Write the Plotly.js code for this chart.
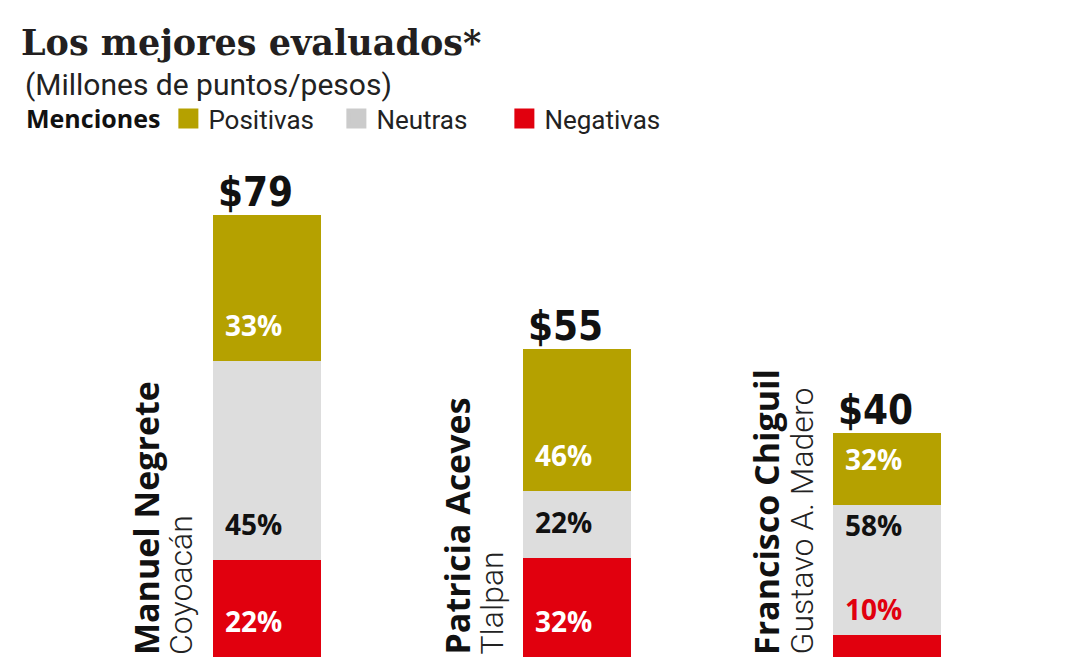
<!DOCTYPE html>
<html><head><meta charset="utf-8">
<script src="https://cdn.plot.ly/plotly-3.0.1.min.js"></script>
<style>html,body{margin:0;padding:0;background:#fff}#chart{width:1081px;height:666px}</style>
</head><body><div id="chart"></div>
<script>
// ---- data ----
const names = ['Manuel Negrete', 'Patricia Aceves', 'Francisco Chiguil'];
const districts = ['Coyoacán', 'Tlalpan', 'Gustavo A. Madero'];
const totals = [79, 55, 40];            // millones de puntos/pesos
const totalLabels = ['$79', '$55', '$40'];
const positivas = [33, 46, 32];          // %
const neutras = [45, 22, 58];            // %
const negativas = [22, 32, 10];          // %
const seriesNames = ['Negativas', 'Neutras', 'Positivas'];

// ---- styles ----
const colors = {Positivas: '#B5A100', Neutras: '#DDDDDD', Negativas: '#E1000E'};
const legendColors = {Positivas: '#B5A100', Neutras: '#CBCBCB', Negativas: '#E1000E'};
const labelColors = {Positivas: '#FFFFFF', Neutras: '#111111', Negativas: '#FFFFFF'};
const pctFont = 'Open Sans, Roboto, sans-serif';
const idx = names.map((_, i) => i);
const pctBySeries = {Negativas: negativas, Neutras: neutras, Positivas: positivas};
const barW = 108 / 310;
const defaultLabelShift = 36;
const labelShiftOverride = {'2-Positivas': 46, '2-Neutras': 110, '2-Negativas': 48};
const labelColorOverride = {'2-Negativas': '#E1000E'};

const traces = [];
seriesNames.forEach(s => {
  traces.push({
    type: 'bar', name: s, x: idx,
    y: idx.map(i => totals[i] * pctBySeries[s][i] / 100),
    marker: {color: colors[s], line: {width: 0}},
    width: barW, showlegend: false, hoverinfo: 'skip'
  });
});
['Positivas', 'Neutras', 'Negativas'].forEach(s => {
  traces.push({
    type: 'scatter', mode: 'markers', name: s, x: [null], y: [null],
    marker: {symbol: 'square', size: 16, color: legendColors[s], line: {width: 4, color: legendColors[s]}},
    showlegend: true, hoverinfo: 'skip'
  });
});

const annotations = [];
idx.forEach(i => {
  let base = 0;
  seriesNames.forEach(s => {
    const v = totals[i] * pctBySeries[s][i] / 100;
    const key = i + '-' + s;
    annotations.push({
      xref: 'x', yref: 'y', x: i, y: base, xanchor: 'left', yanchor: 'middle',
      xshift: -44, yshift: labelShiftOverride[key] !== undefined ? labelShiftOverride[key] : defaultLabelShift,
      text: '<b>' + pctBySeries[s][i] + '%</b>', showarrow: false,
      font: {family: pctFont, size: 28, color: labelColorOverride[key] || labelColors[s]}
    });
    base += v;
  });
  // total label
  annotations.push({
    xref: 'x', yref: 'y', x: i, y: totals[i], xanchor: 'center', yanchor: 'bottom',
    xshift: -12, yshift: -2, text: '<b>' + totalLabels[i] + '</b>', showarrow: false,
    font: {family: 'DejaVu Sans Condensed, DejaVu Sans, sans-serif', stretch: 'condensed', size: 40, color: '#111111'}
  });
  // name (bold) and district (light), vertical
  annotations.push({
    xref: 'x', yref: 'y', x: i, y: 0, xanchor: 'center', yanchor: 'bottom',
    xshift: -121, yshift: 0, textangle: -90, text: '<b>' + names[i] + '</b>', showarrow: false,
    font: {family: 'Open Sans, sans-serif', size: 34, color: '#111111'}
  });
  annotations.push({
    xref: 'x', yref: 'y', x: i, y: 0, xanchor: 'center', yanchor: 'bottom',
    xshift: -86, yshift: 0, textangle: -90, text: districts[i], showarrow: false,
    font: {family: 'Roboto, sans-serif', size: 32, weight: 300, color: '#222222'}
  });
});
// subtitle
annotations.push({
  xref: 'paper', yref: 'paper', x: -89 / 930, y: 1 + (97 - 65) / 560, xanchor: 'left', yanchor: 'top',
  text: '(Millones de puntos/pesos)', showarrow: false,
  font: {family: 'Roboto, sans-serif', size: 30, color: '#222222'}
});

const layout = {
  width: 1081, height: 666,
  margin: {l: 112, r: 39, t: 97, b: 9, autoexpand: false},
  paper_bgcolor: '#FFFFFF', plot_bgcolor: '#FFFFFF',
  barmode: 'stack', bargap: 0,
  title: {
    text: '<b>Los mejores evaluados*</b>',
    font: {family: 'DejaVu Serif, serif', size: 35, color: '#231F20'},
    xref: 'container', yref: 'container', x: 21 / 1081, xanchor: 'left',
    y: 1 - 30 / 666, yanchor: 'top'
  },
  showlegend: true,
  legend: {
    orientation: 'h', xref: 'container', yref: 'container',
    x: 24 / 1081, xanchor: 'left', y: 1 - 95 / 666, yanchor: 'top',
    title: {text: '<b>Menciones</b>', side: 'left', font: {family: 'Open Sans, sans-serif', size: 25, color: '#111111'}},
    font: {family: 'Roboto, sans-serif', size: 26, color: '#222222'},
    entrywidth: 123, entrywidthmode: 'pixels',
    traceorder: 'normal', itemclick: false, itemdoubleclick: false, bgcolor: 'rgba(0,0,0,0)'
  },
  xaxis: {range: [-0.5, 2.5], visible: false, fixedrange: true},
  yaxis: {range: [0, 100], visible: false, fixedrange: true},
  annotations: annotations
};

Plotly.newPlot('chart', traces, layout, {displayModeBar: false, staticPlot: true});
</script>
</body></html>
